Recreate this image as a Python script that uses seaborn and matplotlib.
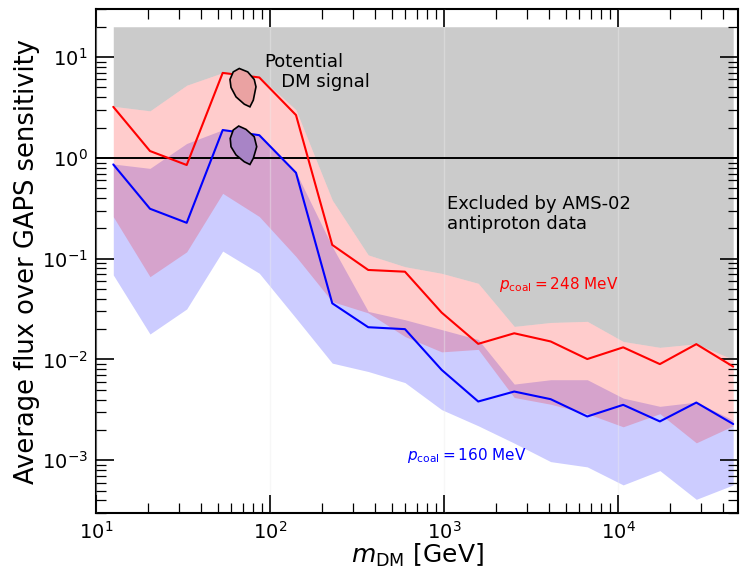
import matplotlib
matplotlib.use("Agg")
import matplotlib.pyplot as plt
import pandas as pd
import seaborn as sns

# Dark-matter mass grid [GeV]
mass = [12.57, 20.43, 33.21, 53.48, 86.8, 141.1, 228, 367, 597, 970,
        1574, 2535, 4104, 6666, 10720, 17420, 28220, 45980]

# p_coal = 248 MeV: central curve and band
red_mid = [3.21, 1.17, 0.85, 6.97, 6.28, 2.66, 0.137, 0.0773, 0.0743, 0.0292,
           0.0143, 0.0182, 0.0151, 0.0101, 0.0132, 0.0090, 0.0142, 0.0085]
red_hi = [3.25, 2.93, 5.26, 7.0, 6.4, 3.0, 0.382, 0.109, 0.0833, 0.0716,
          0.057, 0.0213, 0.0233, 0.0239, 0.0151, 0.0132, 0.0143, 0.0100]
red_lo = [0.261, 0.0663, 0.117, 0.445, 0.262, 0.105, 0.0375, 0.029, 0.0169, 0.0119,
          0.0126, 0.0042, 0.0036, 0.0029, 0.00215, 0.0029, 0.00149, 0.0022]

# p_coal = 160 MeV: central curve and band
blue_mid = [0.861, 0.313, 0.227, 1.89, 1.68, 0.712, 0.0361, 0.0209, 0.0200, 0.00789,
            0.00383, 0.00481, 0.00404, 0.00272, 0.00355, 0.00243, 0.00374, 0.00229]
blue_hi = [0.87, 0.787, 1.39, 1.90, 1.70, 0.72, 0.132, 0.030, 0.0248, 0.0198,
           0.0158, 0.0057, 0.0063, 0.0063, 0.00414, 0.00343, 0.00378, 0.0025]
blue_lo = [0.069, 0.0179, 0.0317, 0.119, 0.0717, 0.0257, 0.0092, 0.0076, 0.0059, 0.00318,
           0.0022, 0.00148, 0.00097, 0.00086, 0.00057, 0.00079, 0.00041, 0.00057]

# Upper edge of the region excluded by AMS-02 antiprotons
excl_top = 20.0

# Potential DM signal regions (closed contours)
sig_hi_mass = [66.6, 74.5, 81.2, 83.1, 80.2, 76.7, 71.2, 63.8, 59.7, 58.9, 61.5]
sig_hi_flux = [7.71, 7.13, 6.00, 5.07, 3.74, 3.21, 3.41, 4.03, 5.00, 6.00, 7.13]
sig_lo_mass = [66.1, 72.8, 81.2, 83.9, 80.2, 76.7, 71.2, 63.8, 59.7, 59.1, 61.5]
sig_lo_flux = [2.07, 1.92, 1.62, 1.29, 0.99, 0.86, 0.915, 1.07, 1.29, 1.56, 1.89]

labels = ["248", "160"]

sns.set_style("ticks")
plt.rcParams["font.family"] = ["DejaVu Sans"]
plt.rcParams["mathtext.fontset"] = "dejavusans"
for key in ("text.color", "axes.labelcolor", "xtick.color", "ytick.color", "axes.edgecolor"):
    plt.rcParams[key] = "black"

fig = plt.figure(figsize=(7.41, 5.70), dpi=100)
ax = fig.add_axes([96 / 741, 1 - 513 / 570, 642 / 741, 504 / 570])
ax.set_xscale("log")
ax.set_yscale("log")

ax.fill_between(mass, red_hi, excl_top, color="#cbcbcb", lw=0, zorder=1.0)
ax.fill_between(mass, blue_lo, blue_hi, color="blue", alpha=0.2, lw=0, zorder=1.1)
ax.fill_between(mass, red_lo, red_hi, color="red", alpha=0.2, lw=0, zorder=1.2)

ax.axhline(1.0, color="black", lw=1.4, zorder=3)

df = pd.concat([
    pd.DataFrame({"mass": mass, "flux": red_mid, "pcoal": labels[0]}),
    pd.DataFrame({"mass": mass, "flux": blue_mid, "pcoal": labels[1]}),
])
sns.lineplot(data=df, x="mass", y="flux", hue="pcoal",
             palette={labels[0]: "red", labels[1]: "blue"},
             legend=False, lw=1.5, ax=ax, zorder=4)

ax.fill(sig_hi_mass, sig_hi_flux, facecolor="#eaa2a2", edgecolor="black", lw=1.2, zorder=5)
ax.fill(sig_lo_mass, sig_lo_flux, facecolor="#a884c6", edgecolor="black", lw=1.2, zorder=5)

ax.set_xlim(10, 4.9e4)
ax.set_ylim(3e-4, 30)

ax.set_axisbelow(False)
ax.grid(axis="x", which="major", color="#ececec", lw=1.0, alpha=0.4)
ax.grid(axis="y", which="both", visible=False)

ax.tick_params(which="both", direction="in", top=True, right=True, labelsize=14)
ax.tick_params(which="major", length=13, width=1.2, pad=6)
ax.tick_params(which="minor", length=7, width=0.9)
for s in ax.spines.values():
    s.set_linewidth(1.5)
    s.set_color("black")

ax.set_xlabel(r"$m_{\rm DM}$ [GeV]", fontsize=18, labelpad=-1)
ax.set_ylabel("Average flux over GAPS sensitivity", fontsize=18.5, labelpad=1)

ax.text(0.2617, 0.8446, "Potential\n   DM signal", transform=ax.transAxes,
        fontsize=13, ha="left", va="baseline", linespacing=1.15, zorder=6)
ax.text(0.546, 0.5635, "Excluded by AMS-02\nantiproton data", transform=ax.transAxes,
        fontsize=13, ha="left", va="baseline", linespacing=1.15, zorder=6)
ax.text(0.628, 0.444, r"$p_{\rm coal} = 248$ MeV", transform=ax.transAxes,
        fontsize=11, color="red", ha="left", va="baseline", zorder=6)
ax.text(0.485, 0.105, r"$p_{\rm coal} = 160$ MeV", transform=ax.transAxes,
        fontsize=11, color="blue", ha="left", va="baseline", zorder=6)

fig.savefig("out.png", dpi=100)
